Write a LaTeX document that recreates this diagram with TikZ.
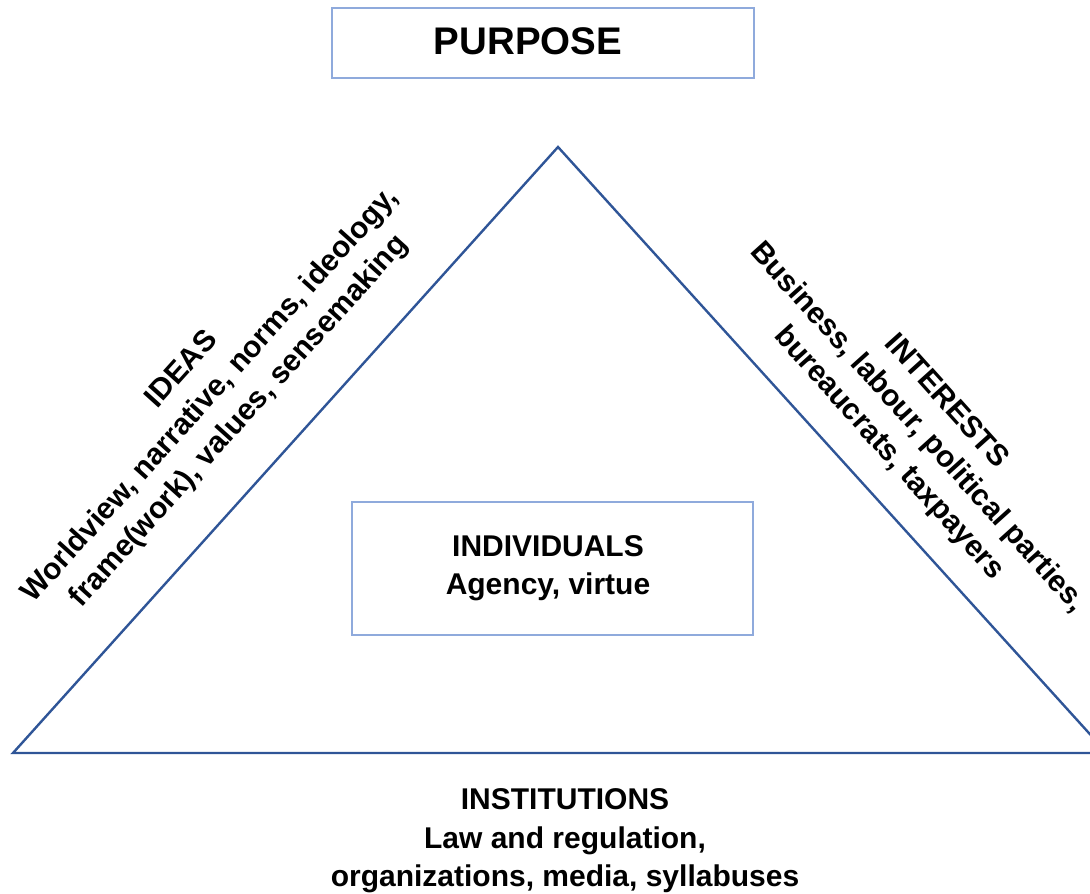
\documentclass[tikz,border=0pt]{standalone}
\usepackage{fontspec}
\setmainfont{Liberation Sans}
\begin{document}
\begin{tikzpicture}[x=1pt,y=-1pt,
  edge/.style={draw=triblue, line width=2.4pt, line join=miter},
  frame/.style={draw=boxblue, line width=1.5pt, fill=white},
  label/.style={font=\fontsize{30}{38.5}\selectfont\bfseries, align=center, inner sep=0pt},
]
\definecolor{triblue}{HTML}{2F5597}
\definecolor{boxblue}{HTML}{8FAADC}
\useasboundingbox (0,0) rectangle (1090,894);
\clip (0,0) rectangle (1090,894);

% triangle corners
\coordinate (apex) at (558,147);
\coordinate (left) at (13,753);
\coordinate (right) at (1107,753);
\draw[edge] (apex) -- (left) -- (right) -- cycle;

% boxes
\node[frame, minimum width=422pt, minimum height=70pt, inner sep=0pt] (purpose) at (543,43) {};
\node[font=\fontsize{38.5}{44}\selectfont\bfseries, inner sep=0pt] (purposetext) at (528,41) {PURPOSE};
\node[frame, minimum width=401pt, minimum height=133pt] (indiv) at (552.5,568.5) {};
\node[label] (indivtext) at (548,568) {INDIVIDUALS\\Agency, virtue};

% side labels
\node[label, rotate=48] (ideas) at (211,396)
  {IDEAS\\Worldview, narrative, norms, ideology,\\frame(work), values, sensemaking};
\node[label, rotate=-48] (interests) at (917,428)
  {INTERESTS\\Business, labour, political parties,\\bureaucrats, taxpayers};

% bottom label
\node[label] (institutions) at (565,841)
  {INSTITUTIONS\\Law and regulation,\\organizations, media, syllabuses};
\end{tikzpicture}
\end{document}
